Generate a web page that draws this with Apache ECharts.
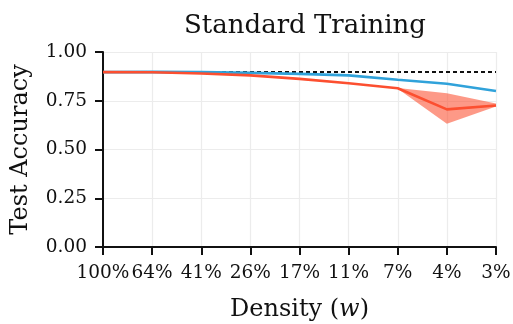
<!DOCTYPE html>
<html><head><meta charset="utf-8">
<script src="https://cdn.jsdelivr.net/npm/echarts@6/dist/echarts.min.js"></script>
<style>html,body{margin:0;padding:0;background:#fff}#c{width:513px;height:324px}</style>
</head><body><div id="c"></div>
<script>
const categories = ['100%','64%','41%','26%','17%','11%','7%','4%','3%'];
const baseline = [0.897,0.897,0.897,0.897,0.897,0.897,0.897,0.897,0.897];
const blueSeries = [0.897,0.898,0.897,0.893,0.888,0.880,0.858,0.837,0.800];
const redSeries = [0.897,0.896,0.890,0.880,0.862,0.840,0.814,0.706,0.726];
const redLow = [0.897,0.896,0.890,0.880,0.862,0.840,0.812,0.632,0.720];
const redHigh = [0.897,0.896,0.890,0.880,0.862,0.840,0.816,0.788,0.736];
const yTicks = [0,0.25,0.5,0.75,1];

const serif = 'DejaVu Serif';
const chart = echarts.init(document.getElementById('c'), null, {renderer:'canvas'});
chart.setOption({
  animation:false,
  title:{text:'Standard Training', left:300, textAlign:'center', top:8,
    textStyle:{fontFamily:serif, fontWeight:'normal', fontSize:26, color:'#111'}},
  grid:{left:103, right:17, top:52, bottom:77, outerBoundsMode:'none', containLabel:false},
  xAxis:{type:'category', data:categories, boundaryGap:false,
    name:'Density ({i|w})', nameLocation:'middle', nameGap:51,
    nameTextStyle:{fontFamily:serif, fontSize:24, color:'#111', verticalAlign:'top',
      rich:{i:{fontFamily:serif, fontStyle:'italic', fontSize:24, color:'#111'}}},
    axisLine:{lineStyle:{color:'#111', width:2}},
    axisTick:{show:true, inside:false, length:8, lineStyle:{color:'#111', width:2}, alignWithLabel:true},
    axisLabel:{fontFamily:serif, fontSize:18.5, color:'#111', margin:17, interval:0},
    splitLine:{show:true, lineStyle:{color:'#ececec', width:1.2}}},
  yAxis:{type:'value', min:0, max:1, interval:0.25,
    name:'Test Accuracy', nameLocation:'middle', nameGap:70, nameRotate:90,
    nameTextStyle:{fontFamily:serif, fontSize:24, color:'#111'},
    axisLine:{show:true, lineStyle:{color:'#111', width:2}},
    axisTick:{show:true, inside:false, length:8, lineStyle:{color:'#111', width:2}},
    axisLabel:{fontFamily:serif, fontSize:18.5, color:'#111', margin:16,
      formatter:v=>v.toFixed(2)},
    splitLine:{show:true, lineStyle:{color:'#ececec', width:1.2}}},
  series:[
    {type:'line', data:redLow, stack:'band', symbol:'none', lineStyle:{opacity:0}, silent:true, z:1},
    {type:'line', data:redHigh.map((h,i)=>h-redLow[i]), stack:'band', symbol:'none',
      lineStyle:{opacity:0}, areaStyle:{color:'rgba(252,79,48,0.58)', opacity:1}, silent:true, z:1},
    {type:'line', data:baseline, symbol:'none', lineStyle:{color:'#111', width:2, type:[4,3]}, z:2},
    {type:'line', data:blueSeries, symbol:'none', lineStyle:{color:'#30a2da', width:2.6}, z:3},
    {type:'line', data:redSeries, symbol:'none', lineStyle:{color:'#fc4f30', width:2.6}, z:4}
  ]
});
</script></body></html>
